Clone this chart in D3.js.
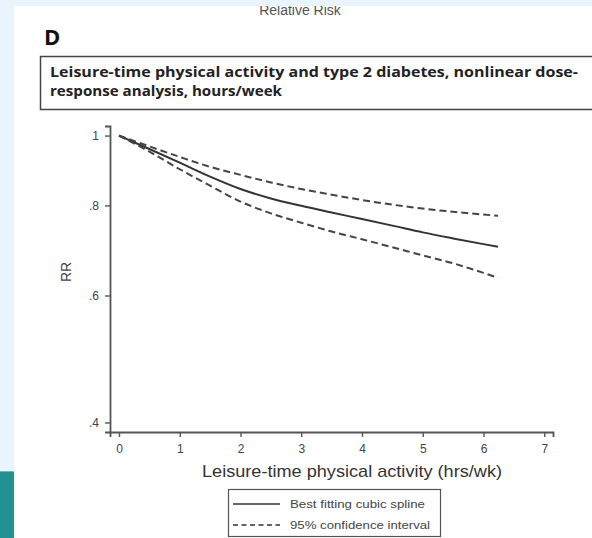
<!DOCTYPE html>
<html>
<head>
<meta charset="utf-8">
<script src="https://cdn.jsdelivr.net/npm/d3@7"></script>
<style>
  body { margin: 0; background: #eaf4fc; }
  svg { display: block; }
</style>
</head>
<body>
<div id="chart"></div>
<script>
// data
var hours = [0, 0.5, 1, 1.5, 2, 2.5, 3, 3.5, 4, 4.5, 5, 5.5, 6, 6.24];
var rrSpline = [1, 0.958, 0.917, 0.877, 0.843, 0.818, 0.799, 0.782, 0.766, 0.750, 0.734, 0.720, 0.707, 0.701];
var rrUpper = [1, 0.966, 0.934, 0.905, 0.882, 0.861, 0.843, 0.828, 0.814, 0.802, 0.792, 0.784, 0.777, 0.774];
var rrLower = [1, 0.950, 0.898, 0.852, 0.810, 0.780, 0.757, 0.736, 0.718, 0.700, 0.682, 0.665, 0.645, 0.635];
var xTicks = [0, 1, 2, 3, 4, 5, 6, 7];
var yTicks = [0.4, 0.6, 0.8, 1];
var legendLabels = ["Best fitting cubic spline", "95% confidence interval"];

var svgWidth = 592;
var svgHeight = 538;

var svg = d3.select("#chart")
    .append("svg")
    .attr("width", svgWidth)
    .attr("height", svgHeight);

// white page area
svg.append("rect")
    .attr("x", 14).attr("y", 0)
    .attr("width", svgWidth - 14).attr("height", svgHeight)
    .attr("fill", "#ffffff");

// header text (cut by the band above)
svg.append("text")
    .attr("x", 300).attr("y", 15)
    .attr("text-anchor", "middle")
    .attr("font-family", "Liberation Sans, Arial, sans-serif")
    .attr("font-size", 14)
    .attr("fill", "#555")
    .text("Relative Risk");

// top band covers the header
svg.append("rect")
    .attr("x", 0).attr("y", 0)
    .attr("width", svgWidth).attr("height", 6)
    .attr("fill", "#eaf4fc");

// left band and teal block
svg.append("rect")
    .attr("x", 0).attr("y", 0)
    .attr("width", 14).attr("height", svgHeight)
    .attr("fill", "#eaf4fc");
svg.append("rect")
    .attr("x", 0).attr("y", 471)
    .attr("width", 14).attr("height", svgHeight - 471)
    .attr("fill", "#22918f");
svg.append("line")
    .attr("x1", 0).attr("x2", 14)
    .attr("y1", 471.5).attr("y2", 471.5)
    .attr("stroke", "#6fb8bd");

// panel letter
svg.append("text")
    .attr("x", 44).attr("y", 45)
    .attr("font-family", "Open Sans, Liberation Sans, sans-serif")
    .attr("font-weight", "bold")
    .attr("font-size", 22)
    .attr("fill", "#111")
    .text("D");

// title box
svg.append("rect")
    .attr("x", 40.5).attr("y", 56.5)
    .attr("width", 600).attr("height", 53)
    .attr("fill", "none")
    .attr("stroke", "#444")
    .attr("stroke-width", 1.5);

var titleLines = ["Leisure-time physical activity and type 2 diabetes, nonlinear dose-",
    "response analysis, hours/week"];
svg.selectAll(".title")
    .data(titleLines)
    .enter()
    .append("text")
    .classed("title", true)
    .attr("x", 50)
    .attr("y", (d, i) => 77 + i * 19)
    .attr("font-family", "Open Sans, Liberation Sans, sans-serif")
    .attr("font-weight", "bold")
    .attr("font-size", 13.5)
    .attr("fill", "#222")
    .attr("textLength", (d, i) => i === 0 ? 528 : 232)
    .attr("lengthAdjust", "spacingAndGlyphs")
    .text(d => d);

// scales (log scale on RR)
var xScale = d3.scaleLinear()
    .domain([-0.148, 7.144])
    .range([110, 553]);

var yScale = d3.scaleLog()
    .domain([0.388, 1.031])
    .range([432, 126]);

var axisColor = "#555";

// axes
var bottomAxis = d3.axisBottom(xScale)
    .tickValues(xTicks)
    .tickSize(5)
    .tickPadding(7)
    .tickFormat(d3.format("d"));

var leftAxis = d3.axisLeft(yScale)
    .tickValues(yTicks)
    .tickSize(5)
    .tickPadding(6)
    .tickFormat(d => d === 1 ? "1" : d3.format(".1f")(d).replace(/^0/, ""));

var xAxis = svg.append("g")
    .attr("transform", "translate(0, 432)")
    .call(bottomAxis);

var yAxis = svg.append("g")
    .attr("transform", "translate(110, 0)")
    .call(leftAxis);

[xAxis, yAxis].forEach(function (ax) {
    ax.select(".domain").attr("stroke", axisColor).attr("stroke-width", 1.8);
    ax.selectAll(".tick line").attr("stroke", axisColor).attr("stroke-width", 1.4);
    ax.selectAll(".tick text")
        .attr("fill", "#444")
        .attr("font-family", "Liberation Sans, Arial, sans-serif")
        .attr("font-size", 12);
});

// axis titles
svg.append("text")
    .attr("x", 352).attr("y", 477)
    .attr("text-anchor", "middle")
    .attr("font-family", "Liberation Sans, Arial, sans-serif")
    .attr("font-size", 17)
    .attr("fill", "#333")
    .attr("textLength", 300)
    .attr("lengthAdjust", "spacingAndGlyphs")
    .text("Leisure-time physical activity (hrs/wk)");

svg.append("text")
    .attr("transform", "translate(71, 272) rotate(-90)")
    .attr("text-anchor", "middle")
    .attr("font-family", "Liberation Sans, Arial, sans-serif")
    .attr("font-size", 14)
    .attr("fill", "#444")
    .text("RR");

// curves
var line = d3.line()
    .x((d, i) => xScale(hours[i]))
    .y(d => yScale(d))
    .curve(d3.curveMonotoneX);

var series = [
    { values: rrSpline, dash: null },
    { values: rrUpper, dash: "7,4" },
    { values: rrLower, dash: "7,4" }
];

svg.selectAll(".curve")
    .data(series)
    .enter()
    .append("path")
    .classed("curve", true)
    .attr("d", d => line(d.values))
    .attr("fill", "none")
    .attr("stroke", d => d.dash ? "#444" : "#333")
    .attr("stroke-width", 2)
    .attr("stroke-dasharray", d => d.dash);

// legend
var legend = svg.append("g");
legend.append("rect")
    .attr("x", 228.5).attr("y", 489.5)
    .attr("width", 212).attr("height", 47)
    .attr("fill", "#fff")
    .attr("stroke", "#555")
    .attr("stroke-width", 1.2);

legend.selectAll(".legline")
    .data(legendLabels)
    .enter()
    .append("line")
    .classed("legline", true)
    .attr("x1", 233).attr("x2", 280)
    .attr("y1", (d, i) => 504 + i * 21)
    .attr("y2", (d, i) => 504 + i * 21)
    .attr("stroke", "#333")
    .attr("stroke-width", 1.5)
    .attr("stroke-dasharray", (d, i) => i === 0 ? null : "5,3.5");

legend.selectAll(".legtext")
    .data(legendLabels)
    .enter()
    .append("text")
    .classed("legtext", true)
    .attr("x", 290)
    .attr("y", (d, i) => 508 + i * 21)
    .attr("font-family", "Liberation Sans, Arial, sans-serif")
    .attr("font-size", 11)
    .attr("fill", "#444")
    .attr("textLength", (d, i) => i === 0 ? 135 : 140)
    .attr("lengthAdjust", "spacingAndGlyphs")
    .text(d => d);
</script>
</body>
</html>
